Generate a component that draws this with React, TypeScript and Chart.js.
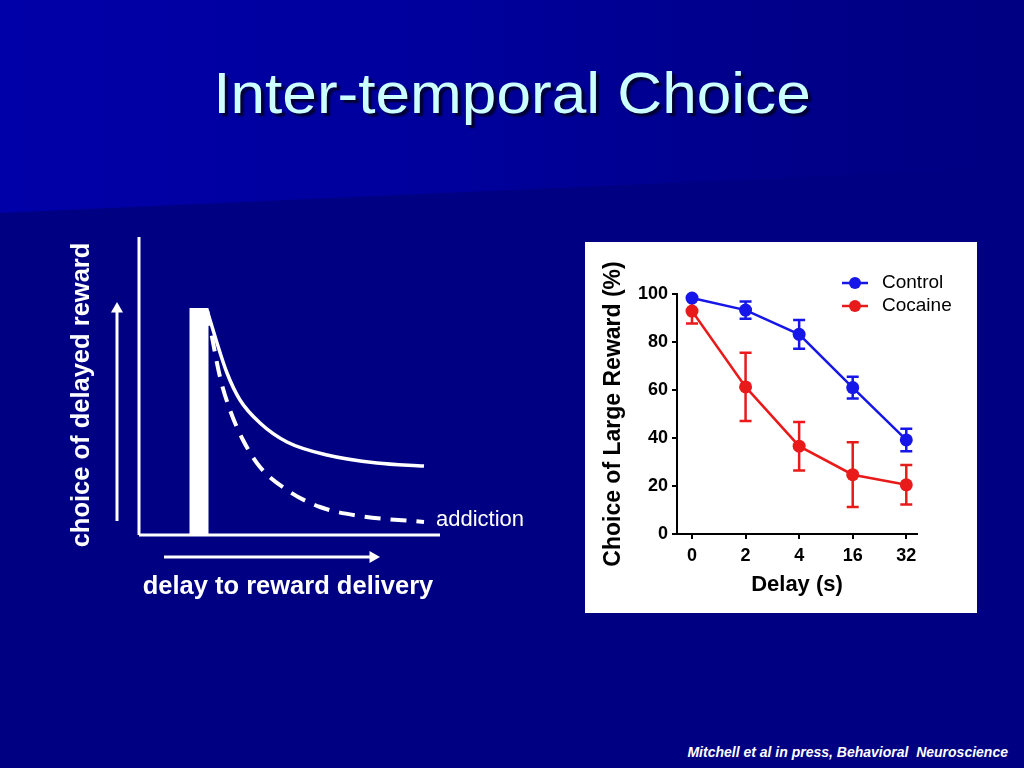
import React, { useEffect, useRef } from "react";
import Chart from "chart.js/auto";

// ---------- Right chart data (Mitchell et al.) ----------
const DELAY_LABELS = ["0", "2", "4", "16", "32"];
const CONTROL_MEAN = [98.3, 93.3, 83.2, 61.0, 39.2];
const CONTROL_SEM = [0.5, 3.6, 6.0, 4.5, 4.7];
const COCAINE_MEAN = [92.9, 61.3, 36.6, 24.7, 20.5];
const COCAINE_SEM = [5.2, 14.2, 10.1, 13.5, 8.2];
const Y_TICKS = [0, 20, 40, 60, 80, 100];
const SERIES_NAMES = ["Control", "Cocaine"];

// ---------- Left schematic data (delay vs choice, arbitrary units) ----------
const SOLID_DELAY = [68, 78, 88, 101, 121, 148, 188, 238, 285];
const SOLID_CHOICE = [225, 192, 162, 135, 112, 93, 80, 72, 69];
const DASHED_DELAY = [68, 81, 91, 104, 121, 148, 181, 221, 285];
const DASHED_CHOICE = [225, 158, 125, 95, 68, 45, 28, 19, 13];
const BAR_DELAY = [60, 60];
const BAR_CHOICE = [0, 227];
const YAXIS_DELAY = [0, 0];
const YAXIS_CHOICE = [0, 298];
const XAXIS_DELAY = [0, 301];
const XAXIS_CHOICE = [0, 0];
const UP_ARROW_DELAY = [-22, -22];
const UP_ARROW_CHOICE = [14, 226];
const RIGHT_ARROW_DELAY = [25, 234];
const RIGHT_ARROW_CHOICE = [-22, -22];

const BLUE = "rgb(22,22,232)";
const RED = "rgb(232,26,26)";
const FONT = "'Liberation Sans', Arial, Helvetica, sans-serif";

const pts = (xs: number[], ys: number[]) => xs.map((x, i) => ({ x, y: ys[i] }));

const errorBarPlugin = {
  id: "errorBars",
  beforeDatasetsDraw(chart: any) {
    const { ctx, scales } = chart;
    const xs = scales.x;
    const ys = scales.y;
    chart.data.datasets.forEach((ds: any) => {
      const errs: number[] = ds.errors || [];
      ctx.save();
      ctx.strokeStyle = ds.borderColor;
      ctx.lineWidth = 2.5;
      ds.data.forEach((p: any, i: number) => {
        const e = errs[i] || 0;
        const px = xs.getPixelForValue(p.x);
        const yt = ys.getPixelForValue(p.y + e);
        const yb = ys.getPixelForValue(p.y - e);
        ctx.beginPath();
        ctx.moveTo(px, yt);
        ctx.lineTo(px, yb);
        ctx.moveTo(px - 6, yt);
        ctx.lineTo(px + 6, yt);
        ctx.moveTo(px - 6, yb);
        ctx.lineTo(px + 6, yb);
        ctx.stroke();
      });
      ctx.restore();
    });
  },
};

const legendPlugin = {
  id: "customLegend",
  afterDraw(chart: any) {
    const { ctx, chartArea } = chart;
    chart.data.datasets.forEach((ds: any, i: number) => {
      const cx = chartArea.right - 62;
      const cy = chartArea.top - 11 + i * 23;
      ctx.save();
      ctx.strokeStyle = ds.borderColor;
      ctx.fillStyle = ds.borderColor;
      ctx.lineWidth = 2.5;
      ctx.beginPath();
      ctx.moveTo(cx - 13, cy);
      ctx.lineTo(cx + 13, cy);
      ctx.stroke();
      ctx.beginPath();
      ctx.arc(cx, cy, 6, 0, Math.PI * 2);
      ctx.fill();
      ctx.fillStyle = "#000";
      ctx.font = `19px ${FONT}`;
      ctx.textBaseline = "middle";
      ctx.textAlign = "left";
      ctx.fillText(ds.label, cx + 27, cy);
      ctx.restore();
    });
  },
};

function DataChart() {
  const ref = useRef<HTMLCanvasElement>(null);
  useEffect(() => {
    if (!ref.current) return;
    const axisCommon = {
      border: { display: true, color: "#000", width: 2 },
      grid: { display: true, drawOnChartArea: false, drawTicks: true, tickLength: 5, color: "#000", lineWidth: 2 },
    };
    const chart = new Chart(ref.current, {
      type: "line",
      data: {
        datasets: [
          {
            label: SERIES_NAMES[0],
            data: pts(DELAY_LABELS.map((_, i) => i), CONTROL_MEAN),
            errors: CONTROL_SEM,
            borderColor: BLUE,
            backgroundColor: BLUE,
            borderWidth: 2.5,
            pointRadius: 6.5,
            pointBorderWidth: 0,
            pointBackgroundColor: BLUE,
            clip: false,
            order: 1,
          } as any,
          {
            label: SERIES_NAMES[1],
            data: pts(DELAY_LABELS.map((_, i) => i), COCAINE_MEAN),
            errors: COCAINE_SEM,
            borderColor: RED,
            backgroundColor: RED,
            borderWidth: 2.5,
            pointRadius: 6.5,
            pointBorderWidth: 0,
            pointBackgroundColor: RED,
            clip: false,
            order: 0,
          } as any,
        ],
      },
      options: {
        animation: false,
        responsive: true,
        maintainAspectRatio: false,
        layout: { autoPadding: false, padding: { left: 0, top: 52, right: 60, bottom: 0 } },
        plugins: { legend: { display: false }, tooltip: { enabled: false } },
        scales: {
          x: {
            type: "linear",
            min: -0.28,
            max: 4.2,
            ...axisCommon,
            afterBuildTicks: (s: any) => {
              s.ticks = DELAY_LABELS.map((_, i) => ({ value: i }));
            },
            afterFit: (s: any) => {
              s.height = 79;
            },
            ticks: {
              color: "#000",
              font: { family: FONT, size: 18, weight: "bold" },
              padding: 6,
              callback: (v: any) => DELAY_LABELS[v] ?? "",
            },
            title: {
              display: true,
              text: "Delay (s)",
              color: "#000",
              font: { family: FONT, size: 22, weight: "bold" },
              padding: { top: 0, bottom: 15 },
            },
          },
          y: {
            type: "linear",
            min: 0,
            max: 100,
            ...axisCommon,
            afterBuildTicks: (s: any) => {
              s.ticks = Y_TICKS.map((v) => ({ value: v }));
            },
            afterFit: (s: any) => {
              s.width = 92;
            },
            ticks: {
              color: "#000",
              font: { family: FONT, size: 18, weight: "bold" },
              padding: 4,
            },
            title: {
              display: true,
              text: "Choice of Large Reward (%)",
              color: "#000",
              font: { family: FONT, size: 23, weight: "bold" },
              padding: { top: 15, bottom: 0 },
            },
          },
        },
      } as any,
      plugins: [errorBarPlugin, legendPlugin],
    });
    return () => chart.destroy();
  }, []);
  return (
    <div style={{ position: "absolute", left: 585, top: 242, width: 392, height: 371, background: "#fff" }}>
      <canvas ref={ref} />
    </div>
  );
}

function SchematicChart() {
  const ref = useRef<HTMLCanvasElement>(null);
  useEffect(() => {
    if (!ref.current) return;
    const white = "#fff";
    const base = { borderColor: white, backgroundColor: white, pointRadius: 0, clip: false, tension: 0 };
    const chart = new Chart(ref.current, {
      type: "line",
      data: {
        datasets: [
          { ...base, data: pts(YAXIS_DELAY, YAXIS_CHOICE), borderWidth: 3 },
          { ...base, data: pts(XAXIS_DELAY, XAXIS_CHOICE), borderWidth: 3 },
          { ...base, data: pts(BAR_DELAY, BAR_CHOICE), borderWidth: 19, borderCapStyle: "butt" },
          { ...base, data: pts(SOLID_DELAY, SOLID_CHOICE), borderWidth: 3.5, cubicInterpolationMode: "monotone" },
          {
            ...base,
            data: pts(DASHED_DELAY, DASHED_CHOICE),
            borderWidth: 4,
            borderDash: [16, 10],
            cubicInterpolationMode: "monotone",
          },
          {
            ...base,
            data: pts(UP_ARROW_DELAY, UP_ARROW_CHOICE),
            borderWidth: 3,
            pointRadius: [0, 7],
            pointStyle: "triangle",
            pointBorderWidth: 0,
            pointBackgroundColor: white,
          },
          {
            ...base,
            data: pts(RIGHT_ARROW_DELAY, RIGHT_ARROW_CHOICE),
            borderWidth: 3,
            pointRadius: [0, 7],
            pointStyle: "triangle",
            pointRotation: 90,
            pointBorderWidth: 0,
            pointBackgroundColor: white,
          },
        ] as any,
      },
      options: {
        animation: false,
        responsive: true,
        maintainAspectRatio: false,
        layout: { autoPadding: false, padding: 0 },
        plugins: { legend: { display: false }, tooltip: { enabled: false } },
        scales: {
          x: { type: "linear", min: -79, max: 401, display: false },
          y: { type: "linear", min: -75, max: 305, display: false },
        },
      } as any,
    });
    return () => chart.destroy();
  }, []);
  return (
    <div style={{ position: "absolute", left: 60, top: 230, width: 480, height: 380 }}>
      <canvas ref={ref} />
    </div>
  );
}

export default function App() {
  const white = "#fff";
  return (
    <div
      style={{
        position: "absolute",
        left: 0,
        top: 0,
        width: 1024,
        height: 768,
        overflow: "hidden",
        background: "#000082",
        fontFamily: FONT,
      }}
    >
      <div
        style={{
          position: "absolute",
          left: 0,
          top: 0,
          width: 1024,
          height: 220,
          background: "linear-gradient(to right, #0000A8 0%, #00009C 45%, #000088 80%, #000082 100%)",
          clipPath: "polygon(0 0, 1024px 0, 1024px 167px, 0 213px)",
        }}
      />
      <div
        style={{
          position: "absolute",
          left: 0,
          top: 65,
          width: 1024,
          textAlign: "center",
          fontSize: 57,
          lineHeight: "57px",
          color: "#CCFFFF",
          textShadow: "3px 3px 2px #000030",
          whiteSpace: "nowrap",
          transform: "scaleX(1.09)",
        }}
      >
        Inter-temporal Choice
      </div>

      <SchematicChart />
      <div
        style={{
          position: "absolute",
          left: 80 - 160,
          top: 395 - 15,
          width: 320,
          height: 30,
          lineHeight: "30px",
          textAlign: "center",
          transform: "rotate(-90deg)",
          color: white,
          fontWeight: "bold",
          fontSize: 25.5,
          whiteSpace: "nowrap",
        }}
      >
        choice of delayed reward
      </div>
      <div
        style={{
          position: "absolute",
          left: 88,
          top: 570,
          width: 400,
          height: 30,
          lineHeight: "30px",
          textAlign: "center",
          color: white,
          fontWeight: "bold",
          fontSize: 25.5,
          whiteSpace: "nowrap",
        }}
      >
        delay to reward delivery
      </div>
      <div
        style={{
          position: "absolute",
          left: 436,
          top: 505,
          height: 28,
          lineHeight: "28px",
          color: white,
          fontSize: 22,
          whiteSpace: "nowrap",
        }}
      >
        addiction
      </div>

      <DataChart />

      <div
        style={{
          position: "absolute",
          right: 16,
          top: 744,
          lineHeight: "16px",
          fontSize: 14,
          fontWeight: "bold",
          fontStyle: "italic",
          color: white,
          whiteSpace: "pre",
        }}
      >
        {"Mitchell et al in press, Behavioral  Neuroscience"}
      </div>
    </div>
  );
}
